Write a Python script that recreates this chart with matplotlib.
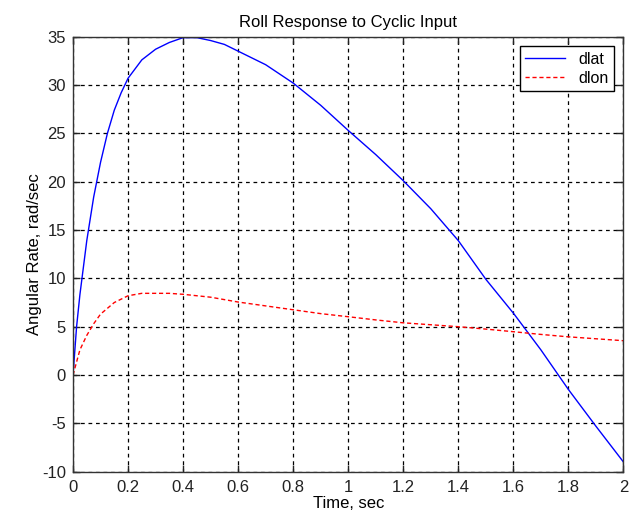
import matplotlib
matplotlib.use("Agg")
import matplotlib.pyplot as plt
import numpy as np

plt.rcParams['font.family'] = ['Liberation Sans', 'DejaVu Sans']
plt.rcParams['axes.unicode_minus'] = False

time_dlat = [0, 0.013, 0.025, 0.05, 0.075, 0.1, 0.125, 0.15, 0.175, 0.2, 0.25, 0.3, 0.35, 0.4,
             0.45, 0.5, 0.55, 0.6, 0.7, 0.8, 0.9, 1.0, 1.1, 1.2, 1.3, 1.4, 1.5,
             1.6, 1.7, 1.8, 1.9, 2.0]
dlat = [0, 5.0, 8.3, 13.9, 18.4, 22.0, 25.0, 27.4, 29.2, 30.7, 32.6, 33.7, 34.4, 34.9,
        34.9, 34.6, 34.2, 33.5, 32.1, 30.2, 27.9, 25.3, 22.8, 20.1, 17.2, 13.9, 9.9,
        6.4, 2.6, -1.5, -5.3, -9.0]

time_dlon = [0, 0.025, 0.05, 0.075, 0.1, 0.15, 0.2, 0.25, 0.3, 0.35, 0.4, 0.5, 0.6,
             0.7, 0.8, 0.9, 1.0, 1.1, 1.2, 1.3, 1.4, 1.5, 1.6, 1.7, 1.8, 1.9, 2.0]
dlon = [0, 2.6, 4.1, 5.3, 6.3, 7.5, 8.2, 8.45, 8.45, 8.45, 8.35, 8.05, 7.55,
        7.15, 6.75, 6.35, 6.03, 5.7, 5.4, 5.2, 5.0, 4.75, 4.48, 4.2, 3.95, 3.75, 3.55]

xticks = [0, 0.2, 0.4, 0.6, 0.8, 1, 1.2, 1.4, 1.6, 1.8, 2]
xtick_labels = ['0', '0.2', '0.4', '0.6', '0.8', '1', '1.2', '1.4', '1.6', '1.8', '2']
yticks = [-10, -5, 0, 5, 10, 15, 20, 25, 30, 35]

fig = plt.figure(figsize=(6.36, 5.18), dpi=100)
ax = fig.add_axes([0.1148, 0.0894, 0.8655, 0.8398])

ax.plot(time_dlat, dlat, color='#0000ff', lw=1.0, label='dlat')
ax.plot(time_dlon, dlon, color='#ff0000', lw=1.0, ls=(0, (3, 2)), label='dlon')

ax.set_xlim(0, 2)
ax.set_ylim(-10, 35)
ax.set_xticks(xticks)
ax.set_xticklabels(xtick_labels)
ax.set_yticks(yticks)
ax.grid(True, color='black', ls=(0, (3, 3)), lw=0.9)
ax.tick_params(direction='in', top=True, right=True, length=5, width=1,
               labelsize=12, colors='#222222')
ax.tick_params(axis='x', pad=6)
ax.tick_params(axis='y', pad=5)
for s in ax.spines.values():
    s.set_color('#333333')
    s.set_linewidth(1.0)

ax.set_title('Roll Response to Cyclic Input', fontsize=12, pad=7)
ax.set_xlabel('Time, sec', fontsize=12, labelpad=1)
ax.set_ylabel('Angular Rate, rad/sec', fontsize=12, labelpad=0)

leg = ax.legend(loc='upper right', fontsize=11.5, fancybox=False, framealpha=1,
                edgecolor='black', borderaxespad=0.6, handlelength=2.5,
                borderpad=0.35, labelspacing=0.25)
leg.get_frame().set_linewidth(1.0)

fig.savefig('out.png', dpi=100)
